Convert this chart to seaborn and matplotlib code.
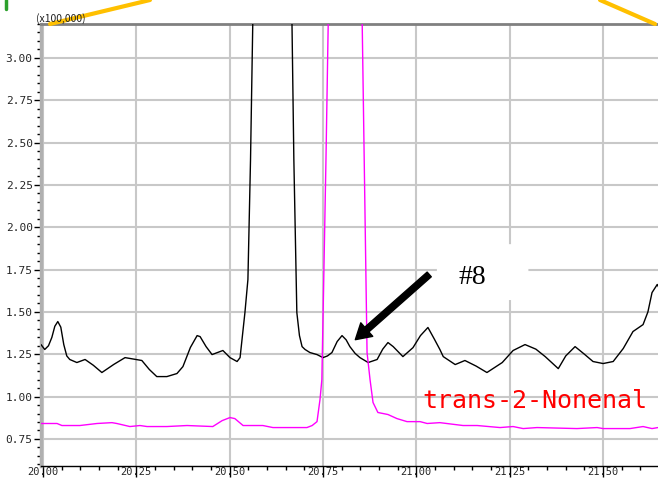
import numpy as np
import pandas as pd
import seaborn as sns
import matplotlib.pyplot as plt
from matplotlib.lines import Line2D
from matplotlib.patches import FancyBboxPatch
from matplotlib.ticker import MultipleLocator, FixedLocator

# retention time (min) and intensity (x100,000)
tic_time = [19.995, 20.005, 20.015, 20.024, 20.032, 20.040, 20.048, 20.056, 20.064, 20.072,
            20.091, 20.113, 20.135, 20.158, 20.190, 20.220, 20.265, 20.285, 20.305, 20.332,
            20.359, 20.375, 20.395, 20.413, 20.421, 20.437, 20.453, 20.482, 20.501, 20.520,
            20.528, 20.541, 20.549, 20.556, 20.562, 20.575, 20.600, 20.640, 20.667, 20.672,
            20.680, 20.687, 20.694, 20.702, 20.715, 20.734, 20.750, 20.762, 20.774, 20.788,
            20.801, 20.812, 20.822, 20.836, 20.849, 20.871, 20.895, 20.910, 20.924, 20.938,
            20.964, 20.991, 21.011, 21.031, 21.048, 21.063, 21.072, 21.104, 21.130, 21.160,
            21.189, 21.230, 21.259, 21.291, 21.320, 21.345, 21.380, 21.400, 21.425, 21.450,
            21.473, 21.500, 21.527, 21.554, 21.580, 21.607, 21.620, 21.631, 21.645, 21.650]
tic_int = [1.307, 1.278, 1.300, 1.349, 1.415, 1.443, 1.410, 1.307, 1.240, 1.219,
           1.201, 1.219, 1.185, 1.142, 1.190, 1.230, 1.213, 1.160, 1.118, 1.118,
           1.136, 1.177, 1.290, 1.360, 1.354, 1.295, 1.248, 1.272, 1.230, 1.207,
           1.230, 1.496, 1.691, 2.400, 3.203, 5.5, 9.0, 6.0, 3.203, 2.400,
           1.496, 1.360, 1.295, 1.278, 1.260, 1.248, 1.230, 1.240, 1.260, 1.325,
           1.360, 1.335, 1.295, 1.255, 1.230, 1.201, 1.219, 1.280, 1.319, 1.295,
           1.236, 1.289, 1.360, 1.408, 1.340, 1.278, 1.236, 1.189, 1.213, 1.180,
           1.142, 1.201, 1.272, 1.307, 1.280, 1.236, 1.165, 1.240, 1.295, 1.250,
           1.207, 1.195, 1.207, 1.284, 1.384, 1.425, 1.500, 1.614, 1.662, 1.640]

ion_time = [19.992, 20.038, 20.051, 20.099, 20.145, 20.185, 20.198, 20.233, 20.260, 20.279,
            20.332, 20.386, 20.455, 20.480, 20.501, 20.514, 20.536, 20.589, 20.616, 20.654,
            20.707, 20.721, 20.734, 20.742, 20.747, 20.758, 20.764, 20.800, 20.830, 20.855,
            20.868, 20.876, 20.884, 20.897, 20.924, 20.948, 20.975, 21.010, 21.029, 21.063,
            21.125, 21.163, 21.224, 21.259, 21.286, 21.323, 21.430, 21.484, 21.500, 21.572,
            21.607, 21.631, 21.647]
ion_int = [0.841, 0.841, 0.829, 0.829, 0.841, 0.846, 0.841, 0.823, 0.829, 0.823,
           0.823, 0.829, 0.823, 0.858, 0.876, 0.870, 0.829, 0.829, 0.817, 0.817,
           0.817, 0.829, 0.852, 0.982, 1.100, 2.400, 3.203, 9.0, 7.0, 3.203,
           1.260, 1.100, 0.965, 0.906, 0.894, 0.870, 0.852, 0.852, 0.841, 0.846,
           0.829, 0.829, 0.817, 0.823, 0.811, 0.817, 0.811, 0.817, 0.811, 0.811,
           0.823, 0.811, 0.817]

x_major = [20.00, 20.25, 20.50, 20.75, 21.00, 21.25, 21.50]
y_major = [0.75, 1.00, 1.25, 1.50, 1.75, 2.00, 2.25, 2.50, 2.75, 3.00]

sns.set_style("white")
fig = plt.figure(figsize=(6.58, 4.79), dpi=100)
ax = fig.add_axes([41 / 658, 1 - 466 / 479, 1 - 41 / 658, (466 - 24) / 479])

tic = pd.DataFrame({"t": tic_time, "i": tic_int})
ion = pd.DataFrame({"t": ion_time, "i": ion_int})
sns.lineplot(data=tic, x="t", y="i", sort=False, estimator=None, color="black", lw=1, ax=ax, zorder=3)
sns.lineplot(data=ion, x="t", y="i", sort=False, estimator=None, color="#ff00ff", lw=1, ax=ax, zorder=3)

ax.set_xlim(19.995, 21.647)
ax.set_ylim(0.59, 3.20)
ax.set_xlabel("")
ax.set_ylabel("")

ax.xaxis.set_major_locator(FixedLocator(x_major))
ax.xaxis.set_minor_locator(MultipleLocator(0.05))
ax.yaxis.set_major_locator(FixedLocator(y_major))
ax.yaxis.set_minor_locator(MultipleLocator(0.05))
ax.set_xticklabels([f"{v:.2f}" for v in x_major], fontfamily="DejaVu Sans Mono", fontsize=7.5)
ax.set_yticklabels([f"{v:.2f}" for v in y_major], fontfamily="DejaVu Sans Mono", fontsize=8)
ax.tick_params(axis="x", which="major", direction="out", length=8, width=1, pad=-7, color="black")
ax.tick_params(axis="x", which="minor", direction="out", length=3, width=1, color="black")
ax.tick_params(axis="y", which="major", direction="out", length=5, width=1, pad=1, color="black")
ax.tick_params(axis="y", which="minor", direction="out", length=3, width=1, color="black")
ax.tick_params(bottom=True, left=True, which="both")

ax.grid(True, which="major", color="#c8c8c8", lw=1.5, zorder=0)
ax.set_axisbelow(True)
ax.spines["right"].set_visible(False)
ax.spines["top"].set_color("#808080")
ax.spines["top"].set_linewidth(2)
ax.spines["left"].set_color("#b0b0b0")
ax.spines["left"].set_linewidth(2.5)
ax.spines["bottom"].set_color("black")
ax.spines["bottom"].set_linewidth(1)

# white label box behind "#8"
box = FancyBboxPatch((21.055, 1.57), 0.245, 0.33, boxstyle="round,pad=0,rounding_size=0.02",
                     fc="white", ec="none", zorder=2, transform=ax.transData)
ax.add_patch(box)
ax.text(21.112, 1.667, "#8", fontfamily="Liberation Serif", fontsize=20, color="black", zorder=5)
ax.annotate("", xy=(20.831, 1.325), xytext=(21.040, 1.732),
            arrowprops=dict(arrowstyle="simple,head_length=1.1,head_width=1.3,tail_width=0.45",
                            fc="black", ec="black"), zorder=5)
ax.text(21.015, 0.935, "trans-2-Nonenal", color="red", fontsize=18,
        fontfamily="DejaVu Sans Mono", zorder=5)

fig.text(36 / 658, 1 - 22 / 479, "(x100,000)", fontsize=7.5,
         fontfamily=["Noto Sans CJK JP", "DejaVu Sans"], color="#222222")

# pieces of the surrounding figure that cut into the frame
fig.add_artist(Line2D([50 / 658, 150 / 658], [1 - 24 / 479, 1.0], color="#ffc000", lw=3))
fig.add_artist(Line2D([600 / 658, 655 / 658], [1.0, 1 - 24 / 479], color="#ffc000", lw=3))
fig.add_artist(Line2D([6 / 658, 6 / 658], [1.0, 1 - 9 / 479], color="#2ca02c", lw=2.5))

fig.savefig("out.png", dpi=100)
